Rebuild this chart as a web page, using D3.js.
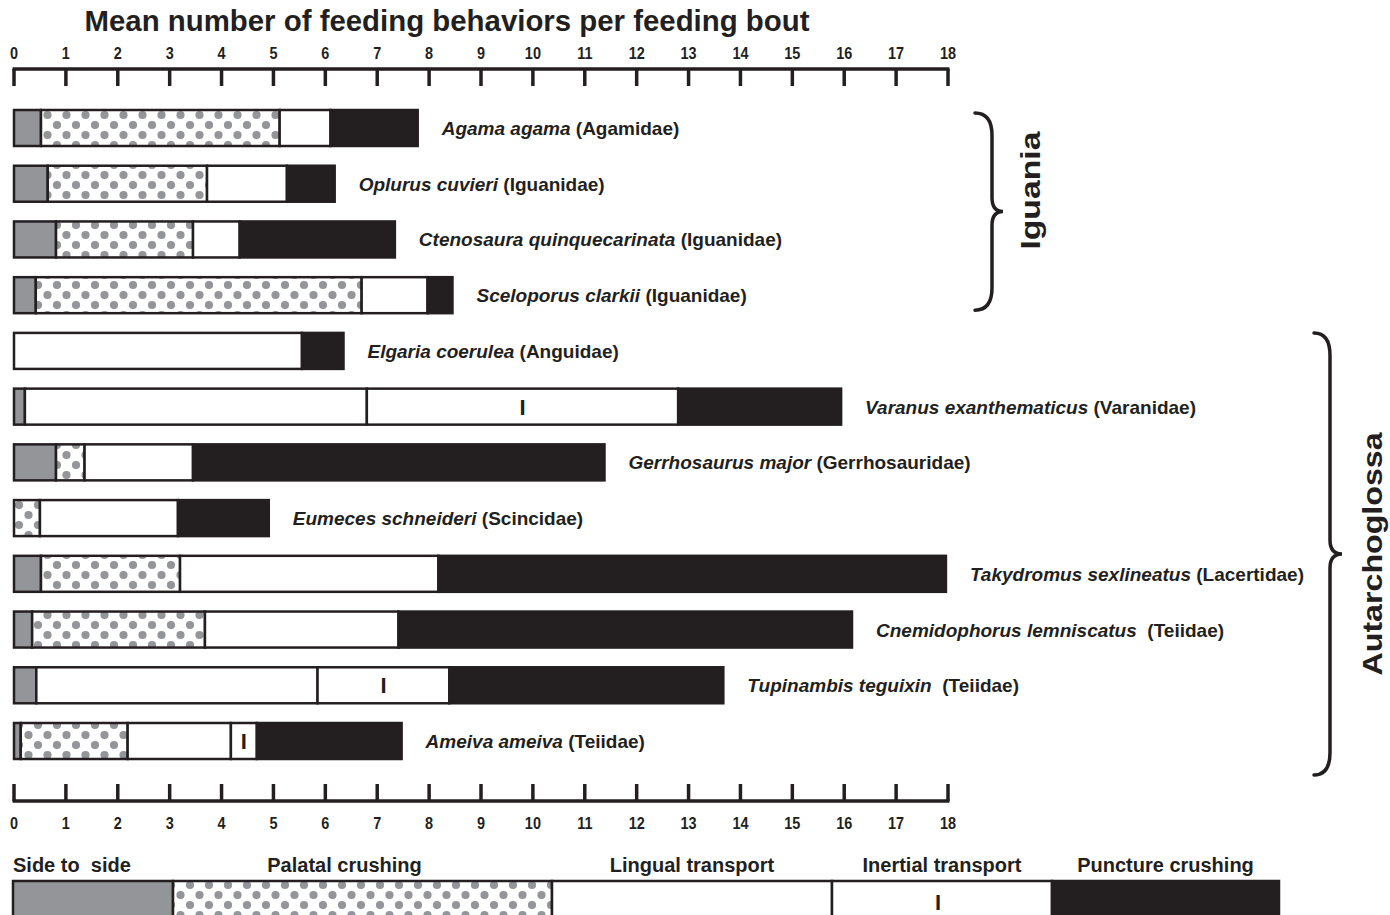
<!DOCTYPE html>
<html>
<head>
<meta charset="utf-8">
<script src="https://cdn.jsdelivr.net/npm/d3@7"></script>
<style>
  body { margin: 0; background: #fff; }
  svg { display: block; font-family: 'Liberation Sans', Arial, sans-serif; }
</style>
</head>
<body>
<div id="chart"></div>
<script>
// species, top to bottom
const species = [
  'Agama agama', 'Oplurus cuvieri', 'Ctenosaura quinquecarinata', 'Sceloporus clarkii',
  'Elgaria coerulea', 'Varanus exanthematicus', 'Gerrhosaurus major', 'Eumeces schneideri',
  'Takydromus sexlineatus', 'Cnemidophorus lemniscatus', 'Tupinambis teguixin', 'Ameiva ameiva',
];
const families = [
  ' (Agamidae)', ' (Iguanidae)', ' (Iguanidae)', ' (Iguanidae)',
  ' (Anguidae)', ' (Varanidae)', ' (Gerrhosauridae)', ' (Scincidae)',
  ' (Lacertidae)', '  (Teiidae)', '  (Teiidae)', ' (Teiidae)',
];

// mean number of each behavior per feeding bout
const sideToSide = [0.52, 0.65, 0.81, 0.42, 0, 0.21, 0.81, 0, 0.52, 0.35, 0.43, 0.13];
const palatalCrushing = [4.60, 3.07, 2.64, 6.28, 0, 0, 0.55, 0.50, 2.68, 3.33, 0, 2.06];
const lingualTransport = [0.98, 1.54, 0.90, 1.27, 5.55, 6.59, 2.09, 2.66, 4.98, 3.73, 5.42, 1.99];
const inertialTransport = [0, 0, 0, 0, 0, 6.00, 0, 0, 0, 0, 2.54, 0.50];
const punctureCrushing = [1.68, 0.92, 2.99, 0.48, 0.80, 3.14, 7.93, 1.75, 9.78, 8.74, 5.28, 2.79];

const behaviors = ['side', 'palatal', 'lingual', 'inertial', 'puncture'];
const behaviorLabels = ['Side to  side', 'Palatal crushing', 'Lingual transport', 'Inertial transport', 'Puncture crushing'];
const axisTicks = d3.range(0, 19);

const groups = [
  { name: 'Iguania', first: 0, last: 3 },
  { name: 'Autarchoglossa', first: 4, last: 11 },
];

const width = 1390;
const height = 915;
const ink = '#231f20';
const grey = '#939598';

const rows = species.map((s, i) => ({
  name: s,
  family: families[i],
  side: sideToSide[i],
  palatal: palatalCrushing[i],
  lingual: lingualTransport[i],
  inertial: inertialTransport[i],
  puncture: punctureCrushing[i],
}));

const stacked = d3.stack().keys(behaviors)(rows);

const x = d3.scaleLinear().domain([0, 18]).range([14, 948]);
const y = d3.scalePoint().domain(species).range([128, 741]);
const barH = 36;

const fills = {
  side: grey, palatal: 'url(#dots)', lingual: '#fff', inertial: '#fff', puncture: ink,
};

const svg = d3.select('#chart').append('svg')
  .attr('width', width)
  .attr('height', height);

// dotted fill for palatal crushing
const pat = svg.append('defs').append('pattern')
  .attr('id', 'dots')
  .attr('patternUnits', 'userSpaceOnUse')
  .attr('width', 19)
  .attr('height', 20);
pat.append('rect').attr('width', 19).attr('height', 20).attr('fill', '#fff');
[[0, 5], [19, 5], [9.5, 15], [9.5, -5], [0, 25], [19, 25]].forEach(([cx, cy]) => {
  pat.append('circle').attr('cx', cx).attr('cy', cy).attr('r', 4.1).attr('fill', grey);
});

// title
svg.append('text')
  .attr('x', 447)
  .attr('y', 31)
  .attr('text-anchor', 'middle')
  .attr('font-size', 29)
  .attr('font-weight', 'bold')
  .attr('fill', ink)
  .attr('textLength', 725)
  .attr('lengthAdjust', 'spacingAndGlyphs')
  .text('Mean number of feeding behaviors per feeding bout');

// axes, top and bottom
const drawAxis = (lineY, tickDir, labelY) => {
  const g = svg.append('g');
  g.append('line')
    .attr('x1', x(0) - 1.5).attr('x2', x(18) + 1.5)
    .attr('y1', lineY).attr('y2', lineY)
    .attr('stroke', ink).attr('stroke-width', 3.5);
  g.selectAll('.tick')
    .data(axisTicks)
    .enter()
    .append('line')
    .attr('x1', (d) => x(d)).attr('x2', (d) => x(d))
    .attr('y1', lineY).attr('y2', lineY + tickDir * 17)
    .attr('stroke', ink).attr('stroke-width', 3.5);
  g.selectAll('.lbl')
    .data(axisTicks)
    .enter()
    .append('text')
    .attr('transform', (d) => `translate(${x(d)},${labelY}) scale(0.85,1)`)
    .attr('text-anchor', 'middle')
    .attr('font-size', 17)
    .attr('font-weight', 'bold')
    .attr('fill', ink)
    .text((d) => d);
};
drawAxis(69, 1, 59);
drawAxis(801, -1, 829);

// bars
const layer = svg.selectAll('.layer')
  .data(stacked)
  .enter()
  .append('g')
  .attr('class', 'layer');

layer.selectAll('rect')
  .data((d) => d.map((v) => ({ key: d.key, v, name: v.data.name })).filter((e) => e.v[1] > e.v[0]))
  .enter()
  .append('rect')
  .attr('x', (d) => x(d.v[0]))
  .attr('y', (d) => y(d.name) - barH / 2)
  .attr('width', (d) => x(d.v[1]) - x(d.v[0]))
  .attr('height', barH)
  .attr('fill', (d) => fills[d.key])
  .attr('stroke', ink)
  .attr('stroke-width', 2.5);

// inertial marker
svg.selectAll('.imark')
  .data(stacked.find((s) => s.key === 'inertial').filter((v) => v[1] > v[0]))
  .enter()
  .append('text')
  .attr('x', (d) => x((d[0] + d[1]) / 2))
  .attr('y', (d) => y(d.data.name) + 8)
  .attr('text-anchor', 'middle')
  .attr('font-size', 22)
  .attr('font-weight', 'bold')
  .attr('fill', ink)
  .text('I');

// species labels
const labels = svg.selectAll('.species')
  .data(rows)
  .enter()
  .append('text')
  .attr('x', (d) => x(d.side + d.palatal + d.lingual + d.inertial + d.puncture) + 24)
  .attr('y', (d) => y(d.name) + 7)
  .attr('font-size', 19)
  .attr('font-weight', 'bold')
  .attr('fill', ink)
  .style('white-space', 'pre');
labels.append('tspan').attr('font-style', 'italic').text((d) => d.name);
labels.append('tspan').text((d) => d.family);

// group braces
const brace = (x0, x1, tipX, top, bottom) => {
  const mid = (top + bottom) / 2;
  const r = 14;
  const p = d3.path();
  p.moveTo(x0, top);
  p.quadraticCurveTo(x1, top, x1, top + r * 1.6);
  p.lineTo(x1, mid - r);
  p.quadraticCurveTo(x1, mid, tipX, mid);
  p.quadraticCurveTo(x1, mid, x1, mid + r);
  p.lineTo(x1, bottom - r * 1.6);
  p.quadraticCurveTo(x1, bottom, x0, bottom);
  return p.toString();
};

const braceSpecs = [
  { x0: 975, x1: 992, tip: 1003, top: y(species[groups[0].first]) - 15, bottom: y(species[groups[0].last]) + 15, lx: 1040, len: 118 },
  { x0: 1314, x1: 1330, tip: 1342, top: y(species[groups[1].first]) - 18, bottom: y(species[groups[1].last]) + 34, lx: 1382, len: 243 },
];

groups.forEach((g, i) => {
  const b = braceSpecs[i];
  svg.append('path')
    .attr('d', brace(b.x0, b.x1, b.tip, b.top, b.bottom))
    .attr('fill', 'none')
    .attr('stroke', ink)
    .attr('stroke-width', 3.5)
    .attr('stroke-linecap', 'round');
  const cy = (b.top + b.bottom) / 2 - (i === 0 ? 21 : 0);
  svg.append('text')
    .attr('transform', `translate(${b.lx},${cy}) rotate(-90)`)
    .attr('text-anchor', 'middle')
    .attr('font-size', 28)
    .attr('font-weight', 'bold')
    .attr('fill', ink)
    .attr('textLength', b.len)
    .attr('lengthAdjust', 'spacingAndGlyphs')
    .text(g.name);
});

// legend
const legendEdges = [13, 173, 552, 832, 1052, 1279];
const legend = svg.append('g');
behaviors.forEach((key, i) => {
  const x0 = legendEdges[i];
  const x1 = legendEdges[i + 1];
  legend.append('rect')
    .attr('x', x0)
    .attr('y', 881)
    .attr('width', x1 - x0)
    .attr('height', 50)
    .attr('fill', fills[key])
    .attr('stroke', ink)
    .attr('stroke-width', 2.5);
  legend.append('text')
    .attr('x', i === 0 ? x0 : (x0 + x1) / 2 - (i === 1 ? 18 : 0))
    .attr('y', 872)
    .attr('text-anchor', i === 0 ? 'start' : 'middle')
    .attr('font-size', 20)
    .attr('font-weight', 'bold')
    .attr('fill', ink)
    .style('white-space', 'pre')
    .text(behaviorLabels[i]);
  if (key === 'inertial') {
    legend.append('text')
      .attr('x', (x0 + x1) / 2 - 4)
      .attr('y', 910)
      .attr('text-anchor', 'middle')
      .attr('font-size', 22)
      .attr('font-weight', 'bold')
      .attr('fill', ink)
      .text('I');
  }
});
</script>
</body>
</html>
